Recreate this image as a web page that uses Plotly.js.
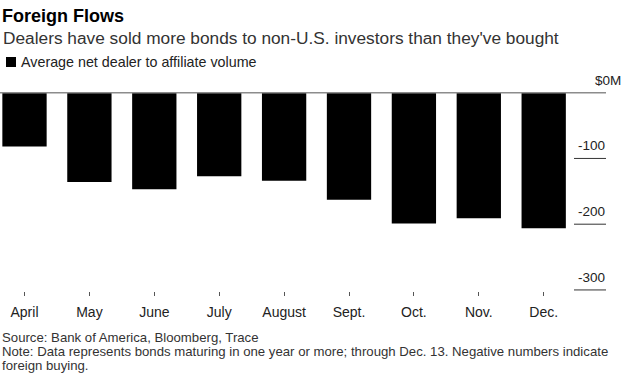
<!DOCTYPE html>
<html><head><meta charset="utf-8">
<script src="https://cdn.plot.ly/plotly-3.0.1.min.js"></script>
<style>html,body{margin:0;padding:0;background:#fff;}#chart{width:630px;height:384px;}</style>
</head><body><div id="chart"></div>
<script>
// ---- data ----
const chartTitle = "Foreign Flows";
const subtitle = "Dealers have sold more bonds to non-U.S. investors than they've bought";
const seriesName = "Average net dealer to affiliate volume";
const months = ["April","May","June","July","August","Sept.","Oct.","Nov.","Dec."];
const netVolume = [-82,-136,-147,-127,-134,-163,-199,-191,-206];
const yTickValues = [0,-100,-200,-300];
const yTickLabels = ["$0M","-100","-200","-300"];
const footnotes = [
  "Source: Bank of America, Bloomberg, Trace",
  "Note: Data represents bonds maturing in one year or more; through Dec. 13. Negative numbers indicate",
  "foreign buying."
];

// ---- layout helpers ----
const W = 630, H = 384;
const M = {l: 0, r: 24, t: 80, b: 93};
const plotW = W - M.l - M.r, plotH = H - M.t - M.b;
const plotBottom = H - M.b;
const py = p => (plotBottom - p) / plotH;   // pixel y -> paper y
const px = p => (p - M.l) / plotW;          // pixel x -> paper x
const FONT = "Liberation Sans, Arial, sans-serif";

const annotations = [];
annotations.push({text: subtitle, xref: 'paper', yref: 'paper', x: px(1), y: py(37.5), xanchor: 'left', yanchor: 'middle',
  showarrow: false, font: {family: FONT, size: 17.3, color: '#333'}});
annotations.push({text: seriesName, xref: 'paper', yref: 'paper', x: px(18.5), y: py(62), xanchor: 'left', yanchor: 'middle',
  showarrow: false, font: {family: FONT, size: 14.3, color: '#222'}});
const footY = [337, 351, 365];
footnotes.forEach((t, i) => annotations.push({text: t, xref: 'paper', yref: 'paper', x: px(2), y: py(footY[i]),
  xanchor: 'left', yanchor: 'middle', showarrow: false, borderpad: 0, borderwidth: 0,
  font: {family: FONT, size: 13.2, color: '#333'}}));
yTickValues.forEach((v, i) => annotations.push({text: yTickLabels[i], xref: 'paper', yref: 'y', x: 1, y: v,
  xanchor: 'right', yanchor: 'bottom', xshift: i === 0 ? 17 : 1, yshift: 3, showarrow: false,
  font: {family: FONT, size: 13.5, color: '#222'}}));

const shapes = [];
shapes.push({type: 'rect', xref: 'paper', yref: 'paper', x0: px(6), x1: px(16), y0: py(67), y1: py(57),
  fillcolor: '#000', line: {width: 0}});
yTickValues.forEach((v, i) => shapes.push(i === 0
  ? {type: 'line', xref: 'paper', yref: 'y', x0: 0, x1: 1, y0: v, y1: v, layer: 'above', line: {color: '#8c8c8c', width: 1.5}}
  : {type: 'line', xref: 'paper', yref: 'y', x0: px(574), x1: 1, y0: v, y1: v, layer: 'above', line: {color: '#333', width: 1}}));

const center0 = 24.5, step = 64.9;
const xr0 = -center0 / step, xr1 = xr0 + plotW / step;
const yScale = 0.6575, zeroPx = 92.7;
const yr1 = (zeroPx - M.t) / yScale, yr0 = -(plotBottom - zeroPx) / yScale;

Plotly.newPlot('chart', [{
  type: 'bar', x: months, y: netVolume, name: seriesName,
  marker: {color: '#000', line: {width: 0}}, hoverinfo: 'x+y'
}], {
  width: W, height: H, margin: M, paper_bgcolor: '#fff', plot_bgcolor: '#fff',
  showlegend: false, bargap: 1 - 44.3 / step,
  title: {text: '<b>' + chartTitle + '</b>', xref: 'container', yref: 'container', x: 2 / W, xanchor: 'left',
    y: 1 - 16 / H, yanchor: 'middle', font: {family: FONT, size: 18, color: '#000'}},
  xaxis: {type: 'category', range: [xr0, xr1], showgrid: false, zeroline: false, showline: false,
    ticks: 'outside', ticklen: 4, tickwidth: 1, tickcolor: '#555', ticklabelstandoff: 4,
    tickfont: {family: FONT, size: 14, color: '#222'}, fixedrange: true},
  yaxis: {range: [yr0, yr1], showgrid: false, zeroline: false, showline: false, showticklabels: false, ticks: '', fixedrange: true},
  annotations: annotations, shapes: shapes
}, {staticPlot: true});
</script></body></html>
